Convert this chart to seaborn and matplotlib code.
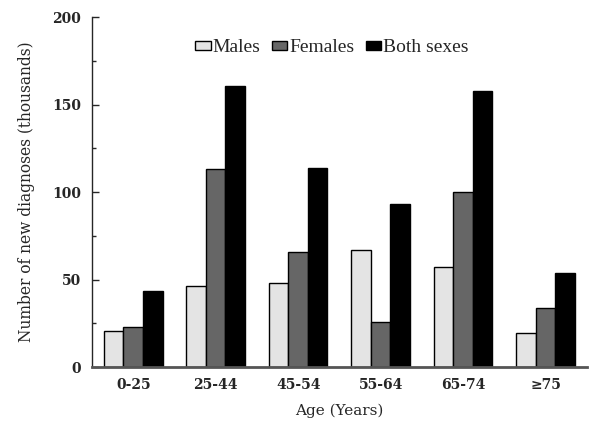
import matplotlib
matplotlib.use("Agg")
import matplotlib.pyplot as plt
import seaborn as sns
import pandas as pd
from matplotlib.ticker import MultipleLocator

categories = ["0-25", "25-44", "45-54", "55-64", "65-74", "\u226575"]
males = [20.5, 46.5, 48, 67, 57, 19.6]
females = [22.7, 113, 66, 25.7, 100, 34]
both = [43.6, 160.5, 114, 93, 157.7, 54]
series = ["Males", "Females", "Both sexes"]
colors = ["#e4e4e4", "#666666", "#000000"]

rows = []
for s, vals in zip(series, [males, females, both]):
    for c, v in zip(categories, vals):
        rows.append({"Age": c, "Sex": s, "Value": v})
df = pd.DataFrame(rows)

sns.set_style("ticks")
plt.rcParams["font.family"] = ["DejaVu Serif"]

fig = plt.figure(figsize=(5.91, 4.22), dpi=100)
ax = fig.add_axes([0.1557, 0.1303, 0.8373, 0.8294])
sns.barplot(data=df, x="Age", y="Value", hue="Sex", palette=colors,
            order=categories, hue_order=series, width=0.71,
            edgecolor="black", linewidth=1.0, saturation=1, ax=ax, legend=True)

ax.set_xlim(-0.5, 5.5)
ax.set_ylim(0, 200)
ax.yaxis.set_major_locator(MultipleLocator(50))
ax.yaxis.set_minor_locator(MultipleLocator(25))
ax.tick_params(axis="y", which="major", length=5, width=1, direction="in", labelsize=10, pad=8)
ax.tick_params(axis="y", which="minor", length=3, width=1, direction="in")
ax.tick_params(axis="x", length=0, labelsize=10, pad=8)
for lab in ax.get_xticklabels() + ax.get_yticklabels():
    lab.set_fontweight("bold")
ax.spines["top"].set_visible(False)
ax.spines["right"].set_visible(False)
ax.spines["left"].set_linewidth(1.0)
ax.spines["bottom"].set_linewidth(2.0)
ax.spines["bottom"].set_color("#555555")
ax.set_xlabel("Age (Years)", fontsize=11, labelpad=8)
ax.set_ylabel("Number of new diagnoses (thousands)", fontsize=11.2, labelpad=12)

leg = ax.legend(loc="upper center", bbox_to_anchor=(0.485, 0.975), ncol=3, frameon=False,
                prop={"family": "Liberation Serif", "size": 14},
                handlelength=0.78, handleheight=0.38, handletextpad=0.1,
                columnspacing=0.6, borderpad=0.2)

fig.savefig("out.png", dpi=100)
